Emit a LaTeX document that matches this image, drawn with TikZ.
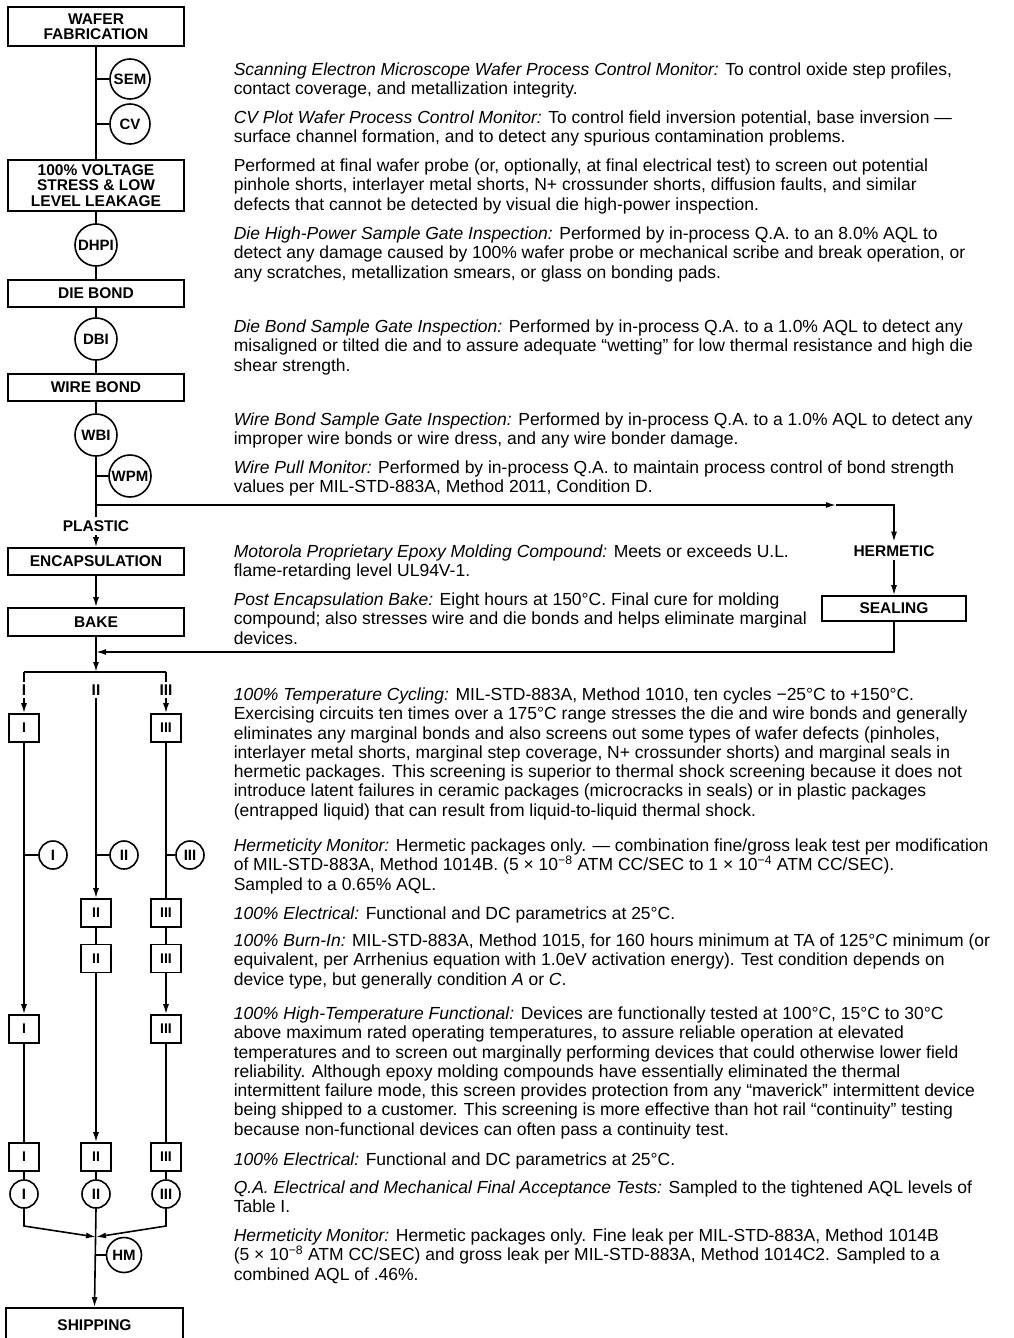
\documentclass[tikz,border=0pt]{standalone}
\usepackage{fontspec}
\setmainfont{Liberation Sans}
\usetikzlibrary{arrows.meta,positioning,calc}

\begin{document}
\begin{tikzpicture}[
  x=1pt, y=-1pt,
  >={Latex[length=10pt,width=6pt]},
  line width=1.6pt,
  stage/.style={draw, minimum width=176pt, inner sep=2pt, align=center, font=\fontsize{15.5}{15.5}\selectfont\bfseries},
  gate/.style={draw, circle, inner sep=0pt, minimum size=#1, font=\fontsize{15}{15}\selectfont\bfseries},
  gate/.default=42pt,
  lot/.style={draw, minimum width=30pt, minimum height=28pt, inner sep=0pt, font=\fontsize{14}{14}\selectfont\bfseries},
  tag/.style={inner sep=3pt, font=\fontsize{15.5}{15.5}\selectfont\bfseries},
  desc/.style={anchor=north west, inner sep=0pt, align=left, font=\fontsize{17.5}{19.3}\selectfont, execute at begin node=\strut},
]
\useasboundingbox (0,0) rectangle (1014,1338);

% main line
\node[stage, minimum height=39pt] (wafer) at (96,26.5) {WAFER\\FABRICATION};
\node[gate=40pt] (sem) at (130,79) {SEM};
\node[gate=40pt] (cv) at (130,124) {CV};
\node[stage, minimum height=51pt] (stress) at (96,185.5) {100\% VOLTAGE\\STRESS \& LOW\\LEVEL LEAKAGE};
\node[gate] (dhpi) at (96,245) {DHPI};
\node[stage, minimum height=27pt] (diebond) at (96,293.5) {DIE BOND};
\node[gate] (dbi) at (96,339) {DBI};
\node[stage, minimum height=27pt] (wirebond) at (96,387.5) {WIRE BOND};
\node[gate] (wbi) at (96,435) {WBI};
\node[gate] (wpm) at (130,476) {WPM};
\node[tag] (plastic) at (96,526) {PLASTIC};
\node[stage, minimum height=27pt] (encap) at (96,561.5) {ENCAPSULATION};
\node[stage, minimum height=28pt] (bake) at (96,622) {BAKE};
\node[tag] (hermetic) at (894,551) {HERMETIC};
\node[stage, minimum width=144pt, minimum height=25pt] (sealing) at (894,608.5) {SEALING};

\coordinate (br) at (96,505);
\coordinate (brA) at (836,505);
\coordinate (brR) at (894,505);
\coordinate (retR) at (894,652);
\coordinate (ret) at (96,652);
\coordinate (split) at (96,672);
\coordinate (splitI) at (24,672);
\coordinate (splitIII) at (166,672);

\draw (wafer.south) -- (stress.north);
\draw (sem.west -| wafer.south) -- (sem.west);
\draw (cv.west -| wafer.south) -- (cv.west);
\draw (stress.south) -- (dhpi.north);
\draw (dhpi.south) -- (diebond.north);
\draw (diebond.south) -- (dbi.north);
\draw (dbi.south) -- (wirebond.north);
\draw (wirebond.south) -- (wbi.north);
\draw (wbi.south) -- (plastic.north);
\draw (wpm.west -| wbi.south) -- (wpm.west);
\draw[->] (plastic.south) -- (encap.north);
\draw[->] (encap.south) -- (bake.north);
\draw[->] (br) -- (brA);
\draw[->] (brA) -- (brR) -- (hermetic.north);
\draw[->] (hermetic.south) -- (sealing.north);
\draw[->] (sealing.south) -- (retR) -- (ret);
\draw[->] (bake.south) -- (split);
\draw (splitI) -- (splitIII);

% three lots
\node[tag, inner sep=2pt] (colI) at (24,690) {I};
\node[tag, inner sep=2pt] (colII) at (96,690) {II};
\node[tag, inner sep=2pt] (colIII) at (166,690) {III};

\node[lot] (bI1) at (24,728) {I};
\node[lot] (bIII1) at (166,728) {III};
\node[gate=28pt] (cI) at (53,855) {I};
\node[gate=28pt] (cII) at (124,855) {II};
\node[gate=28pt] (cIII) at (190,855) {III};
\node[lot] (bII2) at (96,913) {II};
\node[lot] (bIII2) at (166,913) {III};
\node[lot] (bII3) at (96,958.5) {II};
\node[lot] (bIII3) at (166,958.5) {III};
\node[lot] (bI4) at (24,1029) {I};
\node[lot] (bIII4) at (166,1029) {III};
\node[lot] (bI5) at (24,1157) {I};
\node[lot] (bII5) at (96,1157) {II};
\node[lot] (bIII5) at (166,1157) {III};
\node[gate=28pt] (qI) at (24,1194) {I};
\node[gate=28pt] (qII) at (96,1194) {II};
\node[gate=28pt] (qIII) at (166,1194) {III};
\node[gate=35pt] (hm) at (124,1255) {HM};
\node[stage, minimum width=177pt, minimum height=34pt] (shipping) at (94.5,1325) {SHIPPING};

\coordinate (mI) at (24,1226);
\coordinate (mIII) at (166,1226);
\coordinate (merge) at (96,1237);

\draw (splitI) -- (colI.north);
\draw[->] (colI.south) -- (bI1.north);
\draw[->] (colII.south) -- (bII2.north);
\draw (splitIII) -- (colIII.north);
\draw[->] (colIII.south) -- (bIII1.north);
\draw[->] (bI1.south) -- (bI4.north);
\draw (cI.west -| bI1.south) -- (cI.west);
\draw (cII.west -| colII.south) -- (cII.west);
\draw (bIII1.south) -- (bIII2.north);
\draw (cIII.west -| bIII1.south) -- (cIII.west);
\draw (bII2.south) -- (bII3.north);
\draw (bIII2.south) -- (bIII3.north);
\draw[->] (bIII3.south) -- (bIII4.north);
\draw[->] (bII3.south) -- (bII5.north);
\draw (bI4.south) -- (bI5.north);
\draw (bIII4.south) -- (bIII5.north);
\draw (bI5.south) -- (qI.north);
\draw (bII5.south) -- (qII.north);
\draw (bIII5.south) -- (qIII.north);
\draw[->] (qI.south) -- (mI) -- (merge);
\draw[->] (qIII.south) -- (mIII) -- (merge);
\draw[->] (qII.south) -- (shipping.north);
\draw (hm.west -| qII.south) -- (hm.west);

% notes
\node[desc] (tsem) at (233,62) {\textit{Scanning Electron Microscope Wafer Process Control Monitor:} To control oxide step profiles,\\contact coverage, and metallization integrity.};
\node[desc] (tcv) at (233,110) {\textit{CV Plot Wafer Process Control Monitor:} To control field inversion potential, base inversion —\\surface channel formation, and to detect any spurious contamination problems.};
\node[desc] (tstress) at (233,158) {Performed at final wafer probe (or, optionally, at final electrical test) to screen out potential\\pinhole shorts, interlayer metal shorts, N+ crossunder shorts, diffusion faults, and similar\\defects that cannot be detected by visual die high-power inspection.};
\node[desc] (tdhpi) at (233,226) {\textit{Die High-Power Sample Gate Inspection:} Performed by in-process Q.A. to an 8.0\% AQL to\\detect any damage caused by 100\% wafer probe or mechanical scribe and break operation, or\\any scratches, metallization smears, or glass on bonding pads.};
\node[desc] (tdbi) at (233,319) {\textit{Die Bond Sample Gate Inspection:} Performed by in-process Q.A. to a 1.0\% AQL to detect any\\misaligned or tilted die and to assure adequate “wetting” for low thermal resistance and high die\\shear strength.};
\node[desc] (twbi) at (233,412) {\textit{Wire Bond Sample Gate Inspection:} Performed by in-process Q.A. to a 1.0\% AQL to detect any\\improper wire bonds or wire dress, and any wire bonder damage.};
\node[desc] (twpm) at (233,460) {\textit{Wire Pull Monitor:} Performed by in-process Q.A. to maintain process control of bond strength\\values per MIL-STD-883A, Method 2011, Condition D.};
\node[desc] (tencap) at (233,544) {\textit{Motorola Proprietary Epoxy Molding Compound:} Meets or exceeds U.L.\\flame-retarding level UL94V-1.};
\node[desc] (tbake) at (233,592) {\textit{Post Encapsulation Bake:} Eight hours at 150°C. Final cure for molding\\compound; also stresses wire and die bonds and helps eliminate marginal\\devices.};
\node[desc] (tcyc) at (233,687) {\textit{100\% Temperature Cycling:} MIL-STD-883A, Method 1010, ten cycles −25°C to +150°C.\\Exercising circuits ten times over a 175°C range stresses the die and wire bonds and generally\\eliminates any marginal bonds and also screens out some types of wafer defects (pinholes,\\interlayer metal shorts, marginal step coverage, N+ crossunder shorts) and marginal seals in\\hermetic packages. This screening is superior to thermal shock screening because it does not\\introduce latent failures in ceramic packages (microcracks in seals) or in plastic packages\\(entrapped liquid) that can result from liquid-to-liquid thermal shock.};
\node[desc] (therm) at (233,838) {\textit{Hermeticity Monitor:} Hermetic packages only. — combination fine/gross leak test per modification\\of MIL-STD-883A, Method 1014B. (5 × 10\textsuperscript{−8} ATM CC/SEC to 1 × 10\textsuperscript{−4} ATM CC/SEC).\\Sampled to a 0.65\% AQL.};
\node[desc] (telec) at (233,905) {\textit{100\% Electrical:} Functional and DC parametrics at 25°C.};
\node[desc] (tburn) at (233,933) {\textit{100\% Burn-In:} MIL-STD-883A, Method 1015, for 160 hours minimum at TA of 125°C minimum (or\\equivalent, per Arrhenius equation with 1.0eV activation energy). Test condition depends on\\device type, but generally condition \textit{A} or \textit{C}.};
\node[desc] (thtf) at (233,1006) {\textit{100\% High-Temperature Functional:} Devices are functionally tested at 100°C, 15°C to 30°C\\above maximum rated operating temperatures, to assure reliable operation at elevated\\temperatures and to screen out marginally performing devices that could otherwise lower field\\reliability. Although epoxy molding compounds have essentially eliminated the thermal\\intermittent failure mode, this screen provides protection from any “maverick” intermittent device\\being shipped to a customer. This screening is more effective than hot rail “continuity” testing\\because non-functional devices can often pass a continuity test.};
\node[desc] (telec2) at (233,1151) {\textit{100\% Electrical:} Functional and DC parametrics at 25°C.};
\node[desc] (tqa) at (233,1180) {\textit{Q.A. Electrical and Mechanical Final Acceptance Tests:} Sampled to the tightened AQL levels of\\Table I.};
\node[desc] (thm) at (233,1228) {\textit{Hermeticity Monitor:} Hermetic packages only. Fine leak per MIL-STD-883A, Method 1014B\\(5 × 10\textsuperscript{−8} ATM CC/SEC) and gross leak per MIL-STD-883A, Method 1014C2. Sampled to a\\combined AQL of .46\%.};

\end{tikzpicture}
\end{document}
